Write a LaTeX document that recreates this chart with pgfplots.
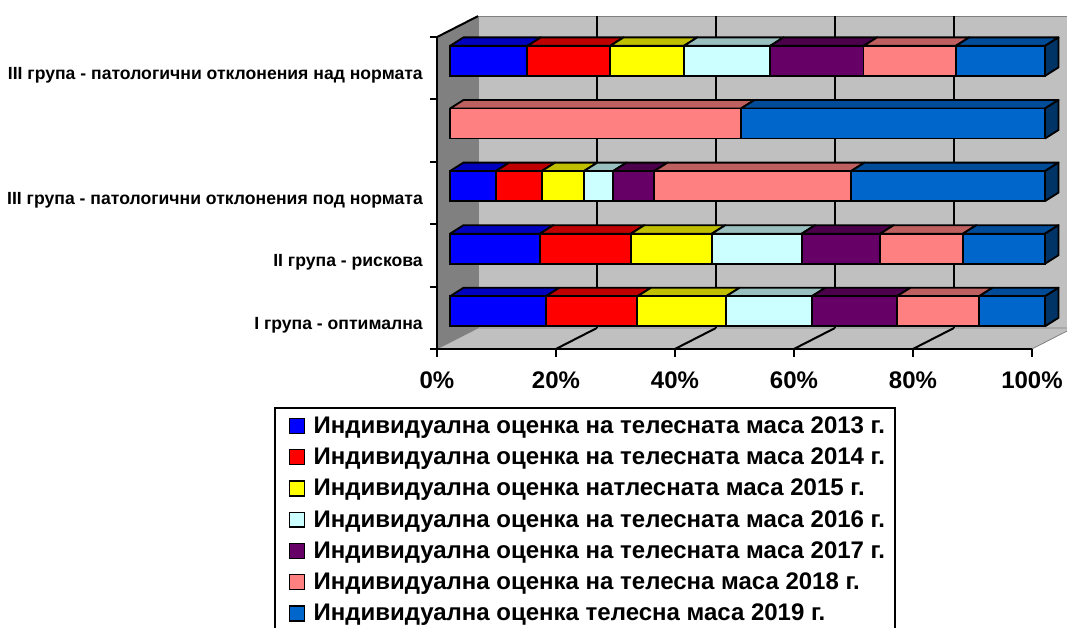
\documentclass[border=0pt]{standalone}
\usepackage{pgfplots}
\usepackage{pgfplotstable}
\pgfplotsset{compat=1.18}
\usepackage{fontspec}
\setmainfont{Liberation Sans}

\definecolor{s1}{HTML}{0000FF}\definecolor{s1t}{HTML}{0000BF}
\definecolor{s2}{HTML}{FF0000}\definecolor{s2t}{HTML}{BF0000}
\definecolor{s3}{HTML}{FFFF00}\definecolor{s3t}{HTML}{BFBF00}
\definecolor{s4}{HTML}{CCFFFF}\definecolor{s4t}{HTML}{99BFBF}
\definecolor{s5}{HTML}{660066}\definecolor{s5t}{HTML}{4C004C}
\definecolor{s6}{HTML}{FF8080}\definecolor{s6t}{HTML}{BF6060}
\definecolor{s7}{HTML}{0066CC}\definecolor{s7t}{HTML}{004C99}\definecolor{s7s}{HTML}{003366}
\definecolor{wallback}{HTML}{C0C0C0}
\definecolor{wallleft}{HTML}{808080}

% share of each year's assessment in each group (%)
\pgfplotstableread{
cat s1 s2 s3 s4 s5 s6 s7
1 16.1 15.4 14.9 14.4 14.3 13.8 11.1
2 15.1 15.3 13.6 15.1 13.2 13.9 13.8
3 7.7 7.7 7.1 4.9 6.9 33.1 32.6
4 0 0 0 0 0 48.9 51.1
5 13.0 13.9 12.4 14.5 15.7 15.5 15.0
}\datatable

% top face of a bar segment: colour, left, right, category
\newcommand\topface[4]{%
  \pgfmathsetmacro\ya{#4+0.2395}\pgfmathsetmacro\yb{#4+0.3755}%
  \pgfmathsetmacro\xa{#2+2.27}\pgfmathsetmacro\xb{#3+2.27}%
  \edef\tmp{\noexpand\addplot[fill=#1, draw=black, line width=1.4pt, line join=round, forget plot] coordinates {(#2,\ya) (#3,\ya) (\xb,\yb) (\xa,\yb) (#2,\ya)};}\tmp
}
% side face at the right end of a bar: category
\newcommand\sideface[1]{%
  \pgfmathsetmacro\ya{#1-0.2395}\pgfmathsetmacro\yb{#1+0.2395}%
  \pgfmathsetmacro\yc{#1+0.3755}\pgfmathsetmacro\yd{#1-0.1035}%
  \edef\tmp{\noexpand\addplot[fill=s7s, draw=black, line width=1.4pt, line join=round, forget plot] coordinates {(100,\ya) (100,\yb) (102.27,\yc) (102.27,\yd) (100,\ya)};}\tmp
}

\pgfplotsset{
  frame/.style={
    scale only axis, width=446.25pt, height=234.75pt,
    at={(0pt,0pt)}, anchor=south west,
    xmin=0, xmax=100, ymin=0.5, ymax=5.5, clip=false,
    axis line style={draw=none}, major tick length=0pt,
  }
}

\begin{document}
\begin{tikzpicture}
\useasboundingbox (-337.5pt,-214.05pt) rectangle (462.75pt,256.95pt);

% ---------- walls, floor, grid and bar depth ----------
\begin{axis}[frame, xtick=\empty, ytick=\empty]
  \fill[wallback] (axis cs:4.7,0.733) rectangle (axis cs:108,5.715);
  \fill[wallleft] (axis cs:-2.2,0.398) -- (axis cs:4.7,0.733) -- (axis cs:4.7,5.715) -- (axis cs:-2.2,5.38) -- cycle;
  \fill[wallback] (axis cs:-2.2,0.398) -- (axis cs:97.8,0.398) -- (axis cs:104.7,0.733) -- (axis cs:4.7,0.733) -- cycle;
  \draw[gray, line width=0.6pt] (axis cs:4.7,0.733) -- (axis cs:4.7,5.715);
  \draw[gray, line width=0.6pt] (axis cs:4.7,5.715) -- (axis cs:108,5.715);
  \draw[gray, line width=0.6pt] (axis cs:-2.2,0.398) -- (axis cs:4.7,0.733) -- (axis cs:108,0.733);
  \draw[gray, line width=0.6pt] (axis cs:97.8,0.398) -- (axis cs:104.7,0.733);
  % back wall grid
  \draw[black, line width=1.5pt] (axis cs:24.7,0.733) -- (axis cs:24.7,5.715);
  \draw[black, line width=1.5pt] (axis cs:44.7,0.733) -- (axis cs:44.7,5.715);
  \draw[black, line width=1.5pt] (axis cs:64.7,0.733) -- (axis cs:64.7,5.715);
  \draw[black, line width=1.5pt] (axis cs:84.7,0.733) -- (axis cs:84.7,5.715);
  % floor grid
  \draw[black, line width=1.5pt] (axis cs:17.8,0.398) -- (axis cs:24.7,0.733);
  \draw[black, line width=1.5pt] (axis cs:37.8,0.398) -- (axis cs:44.7,0.733);
  \draw[black, line width=1.5pt] (axis cs:57.8,0.398) -- (axis cs:64.7,0.733);
  \draw[black, line width=1.5pt] (axis cs:77.8,0.398) -- (axis cs:84.7,0.733);
  % front axes with ticks
  \draw[black, line width=1.5pt] (axis cs:-2.2,5.38) -- (axis cs:4.7,5.715);
  \draw[black, line width=1.5pt, line cap=rect] (axis cs:-2.2,0.398) -- (axis cs:-2.2,5.38);
  \draw[black, line width=1.5pt] (axis cs:-2.2,0.398) -- (axis cs:97.8,0.398);
  \draw[black, line width=1.5pt] (axis cs:-3.4,0.398) -- (axis cs:-2.2,0.398);
  \draw[black, line width=1.5pt] (axis cs:-3.4,1.395) -- (axis cs:-2.2,1.395);
  \draw[black, line width=1.5pt] (axis cs:-3.4,2.391) -- (axis cs:-2.2,2.391);
  \draw[black, line width=1.5pt] (axis cs:-3.4,3.388) -- (axis cs:-2.2,3.388);
  \draw[black, line width=1.5pt] (axis cs:-3.4,4.384) -- (axis cs:-2.2,4.384);
  \draw[black, line width=1.5pt] (axis cs:-3.4,5.38) -- (axis cs:-2.2,5.38);
  \draw[black, line width=1.5pt] (axis cs:-2.2,0.398) -- (axis cs:-2.2,0.27);
  \draw[black, line width=1.5pt] (axis cs:17.8,0.398) -- (axis cs:17.8,0.27);
  \draw[black, line width=1.5pt] (axis cs:37.8,0.398) -- (axis cs:37.8,0.27);
  \draw[black, line width=1.5pt] (axis cs:57.8,0.398) -- (axis cs:57.8,0.27);
  \draw[black, line width=1.5pt] (axis cs:77.8,0.398) -- (axis cs:77.8,0.27);
  \draw[black, line width=1.5pt] (axis cs:97.8,0.398) -- (axis cs:97.8,0.27);

  % top faces (cumulative bounds of the segments)
  % group I
  \topface{s1t}{0}{16.1}{1}\topface{s2t}{16.1}{31.5}{1}\topface{s3t}{31.5}{46.4}{1}
  \topface{s4t}{46.4}{60.8}{1}\topface{s5t}{60.8}{75.1}{1}\topface{s6t}{75.1}{88.9}{1}
  \topface{s7t}{88.9}{100}{1}\sideface{1}
  % group II
  \topface{s1t}{0}{15.1}{2}\topface{s2t}{15.1}{30.4}{2}\topface{s3t}{30.4}{44.0}{2}
  \topface{s4t}{44.0}{59.1}{2}\topface{s5t}{59.1}{72.3}{2}\topface{s6t}{72.3}{86.2}{2}
  \topface{s7t}{86.2}{100}{2}\sideface{2}
  % group III under
  \topface{s1t}{0}{7.7}{3}\topface{s2t}{7.7}{15.4}{3}\topface{s3t}{15.4}{22.5}{3}
  \topface{s4t}{22.5}{27.4}{3}\topface{s5t}{27.4}{34.3}{3}\topface{s6t}{34.3}{67.4}{3}
  \topface{s7t}{67.4}{100}{3}\sideface{3}
  % fourth bar
  \topface{s6t}{0}{48.9}{4}\topface{s7t}{48.9}{100}{4}\sideface{4}
  % group III over
  \topface{s1t}{0}{13.0}{5}\topface{s2t}{13.0}{26.9}{5}\topface{s3t}{26.9}{39.3}{5}
  \topface{s4t}{39.3}{53.8}{5}\topface{s5t}{53.8}{69.5}{5}\topface{s6t}{69.5}{85.0}{5}
  \topface{s7t}{85.0}{100}{5}\sideface{5}
\end{axis}

% ---------- front faces of the stacked bars ----------
\begin{axis}[frame,
  xbar stacked, bar width=0.479,
  xtick={0,20,40,60,80,100},
  xticklabels={0\%,20\%,40\%,60\%,80\%,100\%},
  xticklabel style={font=\fontsize{18}{18}\selectfont\bfseries, anchor=center, inner sep=0pt, xshift=-9.75pt, yshift=-28pt},
  ytick={0.78,1.787,2.778,4.775},
  yticklabels={I група - оптимална, II група - рискова, III група - патологични отклонения под нормата, III група - патологични отклонения над нормата},
  yticklabel style={font=\fontsize{13.2}{13.2}\selectfont\bfseries, anchor=east, inner sep=0pt, xshift=-20.25pt},
  legend style={at={(-0.2958,-0.2058)}, anchor=north west, draw=black, line width=1.5pt,
    font=\fontsize{18}{18}\selectfont\bfseries, inner xsep=6.25pt, inner ysep=5.3pt, row sep=7.4pt,
    nodes={inner sep=1pt}, cells={anchor=west}},
  legend image code/.code={\draw[#1, draw=black, line width=1pt] (0pt,-5.6pt) rectangle (11.25pt,5.6pt); \path (-3.75pt,0pt) (16.5pt,0pt);},
  every axis plot/.append style={draw=black, line width=1.4pt},
]
\addplot[fill=s1] table[x=s1, y=cat] {\datatable};
\addlegendentry{Индивидуална оценка на телесната маса 2013 г.}
\addplot[fill=s2] table[x=s2, y=cat] {\datatable};
\addlegendentry{Индивидуална оценка на телесната маса 2014 г.}
\addplot[fill=s3] table[x=s3, y=cat] {\datatable};
\addlegendentry{Индивидуална оценка натлесната маса 2015 г.}
\addplot[fill=s4] table[x=s4, y=cat] {\datatable};
\addlegendentry{Индивидуална оценка на телесната маса 2016 г.}
\addplot[fill=s5] table[x=s5, y=cat] {\datatable};
\addlegendentry{Индивидуална оценка на телесната маса 2017 г.}
\addplot[fill=s6] table[x=s6, y=cat] {\datatable};
\addlegendentry{Индивидуална оценка на телесна маса 2018 г.}
\addplot[fill=s7] table[x=s7, y=cat] {\datatable};
\addlegendentry{Индивидуална оценка телесна маса 2019 г.}
\end{axis}
\end{tikzpicture}
\end{document}
